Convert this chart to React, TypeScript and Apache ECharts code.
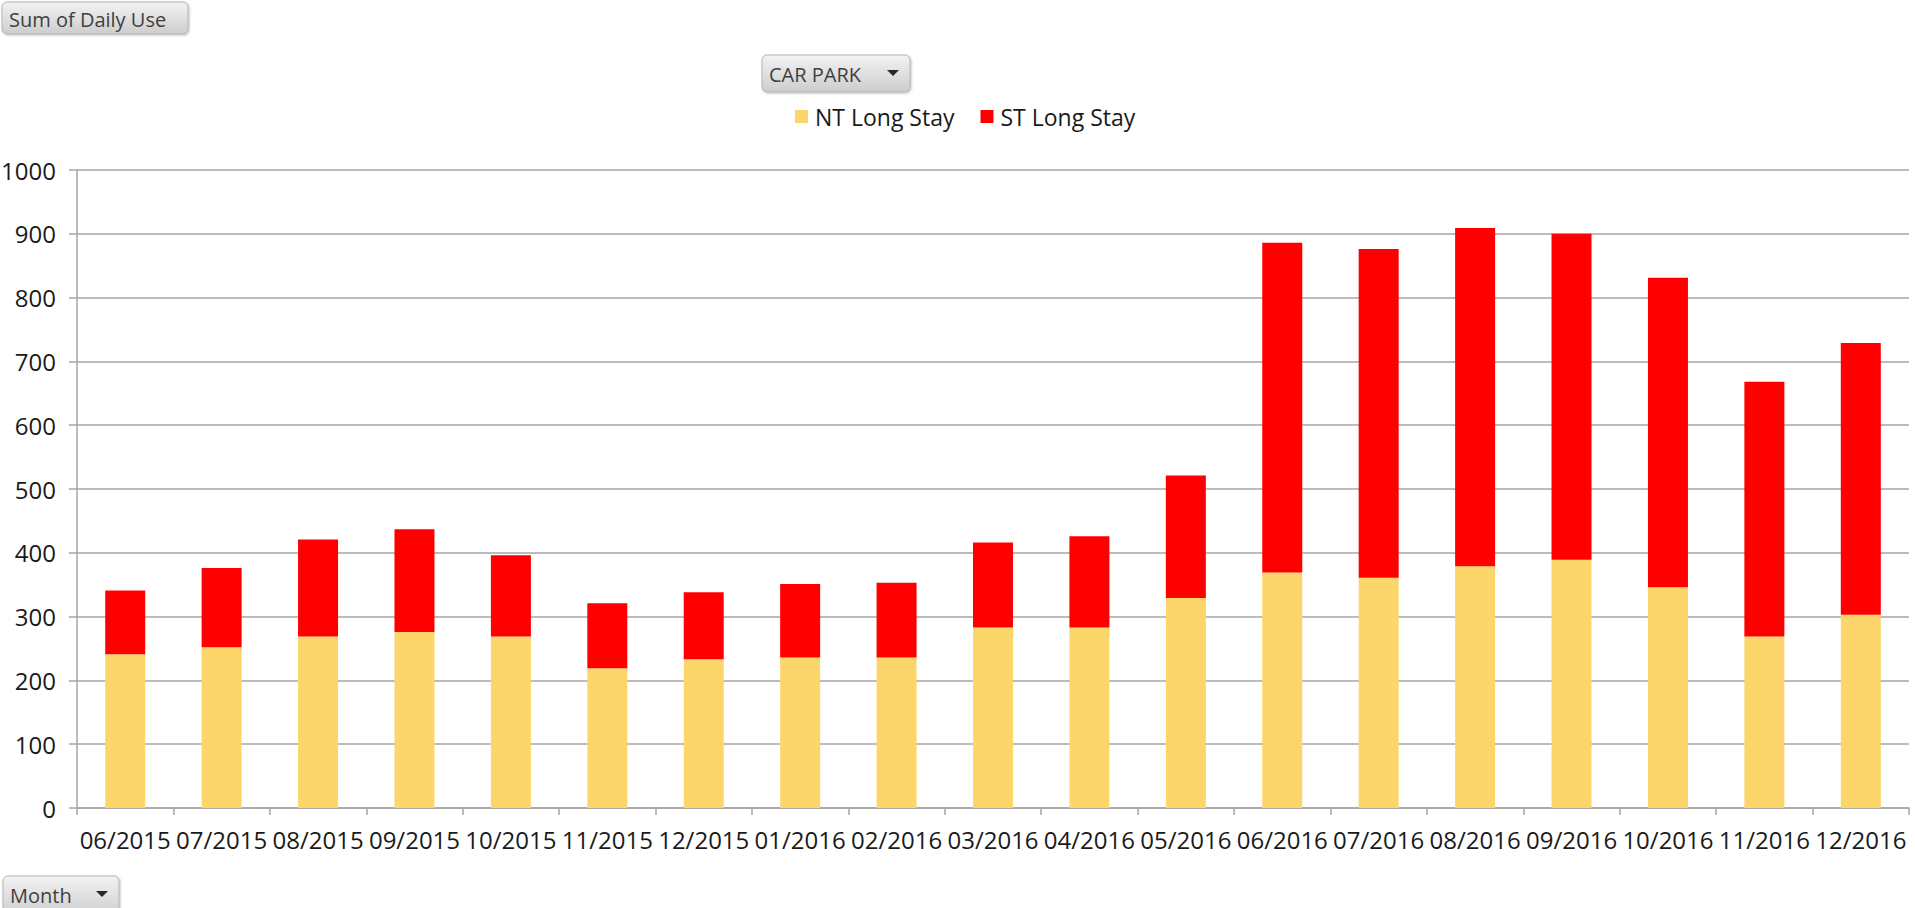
import React, { useEffect, useRef } from "react";
import * as echarts from "echarts";

const months = [
  "06/2015", "07/2015", "08/2015", "09/2015", "10/2015", "11/2015", "12/2015",
  "01/2016", "02/2016", "03/2016", "04/2016", "05/2016", "06/2016", "07/2016",
  "08/2016", "09/2016", "10/2016", "11/2016", "12/2016",
];
const ntLongStay = [241, 252, 269, 276, 269, 219, 233, 236, 236, 283, 283, 329, 369, 361, 379, 389, 346, 269, 303];
const stLongStay = [100, 124, 152, 161, 127, 102, 105, 115, 117, 133, 143, 192, 517, 515, 530, 511, 485, 399, 426];
const yTicks = { min: 0, max: 1000, interval: 100 };

const FONT = '"Open Sans", "Segoe UI", sans-serif';

function button(x: number, y: number, w: number, h: number, label: string, arrow: boolean, textSize: number) {
  const children: any[] = [
    {
      type: "rect",
      shape: { x, y, width: w, height: h, r: 5 },
      style: {
        fill: new echarts.graphic.LinearGradient(0, 0, 0, 1, [
          { offset: 0, color: "#f3f3f3" },
          { offset: 1, color: "#cdcdcd" },
        ]),
        stroke: "#b4b4b4",
        lineWidth: 1,
        shadowBlur: 2,
        shadowOffsetX: 1,
        shadowOffsetY: 1,
        shadowColor: "rgba(0,0,0,0.25)",
      },
    },
    {
      type: "text",
      x: x + 7,
      y: y + (Math.min(h, 36)) / 2 + 1,
      style: {
        text: label,
        fill: "#404040",
        fontSize: textSize,
        fontFamily: FONT,
        verticalAlign: "middle",
        align: "left",
      },
    },
  ];
  if (arrow) {
    const ax = x + w - 23;
    const ay = y + (Math.min(h, 36)) / 2 - 3;
    children.push({
      type: "polygon",
      shape: { points: [[ax, ay], [ax + 12, ay], [ax + 6, ay + 6]] },
      style: { fill: "#262626" },
    });
  }
  return { type: "group", children };
}

export default function App() {
  const ref = useRef<HTMLDivElement>(null);
  useEffect(() => {
    if (!ref.current) return;
    const chart = echarts.init(ref.current, null, { renderer: "svg" });
    chart.setOption({
      animation: false,
      backgroundColor: "#ffffff",
      textStyle: { fontFamily: FONT },
      legend: {
        left: 790,
        top: 100,
        icon: "rect",
        itemWidth: 13,
        itemHeight: 13,
        itemGap: 26,
        textStyle: { fontSize: 23, color: "#1a1a1a", fontFamily: FONT, padding: [0, 0, 0, 2] },
        data: ["NT Long Stay", "ST Long Stay"],
      },
      grid: { left: 77, right: 6, top: 170, bottom: 100, containLabel: false, outerBoundsMode: "none" },
      xAxis: {
        type: "category",
        data: months,
        boundaryGap: true,
        axisLine: { show: true, lineStyle: { color: "#a6a6a6", width: 1.5 } },
        axisTick: { show: true, length: 7, interval: 0, lineStyle: { color: "#a6a6a6", width: 1.5 } },
        axisLabel: { interval: 0, fontSize: 24, color: "#1a1a1a", fontFamily: FONT, margin: 19 },
      },
      yAxis: {
        type: "value",
        min: yTicks.min,
        max: yTicks.max,
        interval: yTicks.interval,
        axisLine: { show: true, lineStyle: { color: "#a6a6a6", width: 1.5 } },
        axisTick: { show: true, length: 8, lineStyle: { color: "#a6a6a6", width: 1.5 } },
        splitLine: { show: true, lineStyle: { color: "#a6a6a6", width: 1.5 } },
        axisLabel: {
          fontSize: 24,
          color: "#1a1a1a",
          fontFamily: FONT,
          margin: 21,
          formatter: (v: number) => String(v),
        },
      },
      series: [
        {
          name: "NT Long Stay",
          type: "bar",
          stack: "total",
          barWidth: 40,
          data: ntLongStay,
          itemStyle: { color: "#FCD66B" },
        },
        {
          name: "ST Long Stay",
          type: "bar",
          stack: "total",
          barWidth: 40,
          data: stLongStay,
          itemStyle: { color: "#FF0000" },
        },
      ],
      graphic: [
        button(2, 2, 186, 32, "Sum of Daily Use", false, 20),
        button(762, 55, 148, 37, "CAR PARK", true, 20),
        button(3, 876, 116, 40, "Month", true, 20),
      ],
    });
    return () => chart.dispose();
  }, []);
  return (
    <div
      ref={ref}
      style={{ position: "fixed", left: 0, top: 0, width: 1915, height: 908 }}
    />
  );
}
